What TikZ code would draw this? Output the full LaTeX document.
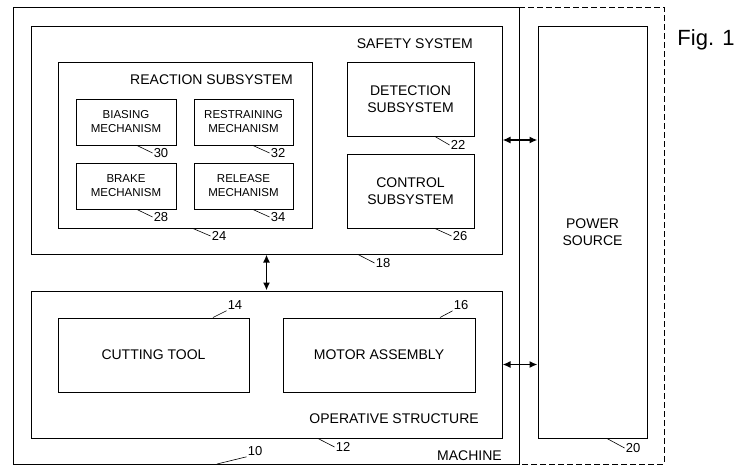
\documentclass[tikz,border=0pt]{standalone}
\usepackage{fontspec}
\setmainfont{Liberation Sans}
\usetikzlibrary{arrows.meta}
\usetikzlibrary{positioning}
\tikzset{
  box/.style = {draw=black, line width=1pt, align=center, inner sep=0pt,
    font=\fontsize{14}{17}\selectfont},% bloc
  mech/.style = {box, font=\fontsize{11.5}{14}\selectfont},% petit bloc
  refnum/.style = {inner sep=1pt, font=\fontsize{13}{15}\selectfont},% numero
  caption/.style = {inner sep=0pt, anchor=east,
    font=\fontsize{14}{17}\selectfont},% titre de bloc
  lead/.style = {line width=0.6pt},% trait de renvoi
  link/.style = {<->, >={Latex[length=8pt,width=7pt]}, line width=1.6pt},
  frame/.style = {line width=0.8pt}
}

\begin{document}
\begin{tikzpicture}[x=1pt,y=-1pt]
\useasboundingbox (0,0) rectangle (737,464);
% machine
\coordinate (mach-nw) at (13,7);
\coordinate (mach-ne) at (519,7);
\coordinate (mach-sw) at (13,464);
\coordinate (mach-se) at (519,464);
\coordinate (ext-ne) at (664,7);
\coordinate (ext-se) at (664,464);
\draw[frame] (mach-ne) -- (mach-nw) -- (mach-sw) -- (mach-se) -- cycle;
\draw[frame, dash pattern=on 6pt off 3pt] (mach-ne) -- (ext-ne) -- (ext-se) -- (mach-se);

% safety system
\node[box, minimum width=471pt, minimum height=228pt] (safety) at (266.5,140) {};
\node[caption] (safety-lbl) at (473,44) {SAFETY SYSTEM};
\node[box, minimum width=254pt, minimum height=166pt] (reaction) at (185,145) {};
\node[caption] (reaction-lbl) at (293,80) {REACTION SUBSYSTEM};
\node[mech, minimum width=100pt, minimum height=46pt] (biasing) at (126,122) {BIASING\\MECHANISM};
\node[mech, minimum width=99pt, minimum height=46pt] (restraining) at (243.5,122) {RESTRAINING\\MECHANISM};
\node[mech, minimum width=100pt, minimum height=46pt] (brake) at (126,186) {BRAKE\\MECHANISM};
\node[mech, minimum width=99pt, minimum height=46pt] (release) at (243.5,186) {RELEASE\\MECHANISM};
\node[box, minimum width=127pt, minimum height=74pt] (detection) at (410.5,99) {DETECTION\\SUBSYSTEM};
\node[box, minimum width=127pt, minimum height=74pt] (control) at (410.5,191) {CONTROL\\SUBSYSTEM};

% operative structure
\node[box, minimum width=471pt, minimum height=147pt] (operative) at (266.5,364.5) {};
\node[caption] (operative-lbl) at (479,419) {OPERATIVE STRUCTURE};
\node[box, minimum width=191pt, minimum height=74pt] (cutting) at (153.5,355) {CUTTING TOOL};
\node[box, minimum width=192pt, minimum height=74pt] (motor) at (379,355) {MOTOR ASSEMBLY};

% power source
\node[box, minimum width=109pt, minimum height=412pt] (power) at (592.5,232) {POWER\\SOURCE};
\node[caption] (machine-lbl) at (502,456) {MACHINE};
\node[inner sep=0pt, font=\fontsize{22}{24}\selectfont] (fig) at (706,40) {Fig. 1};

% liaisons
\draw[link] (safety.east) -- (safety.east -| power.west);
\draw[link] (operative.east) -- (operative.east -| power.west);
\draw[link] (safety.south) -- (operative.north);

% numeros
\node[refnum] (n30) at (161,153) {30};
\draw[lead] ([xshift=11pt]biasing.south) -- (n30.west);
\node[refnum] (n32) at (278,153) {32};
\draw[lead] ([xshift=9.5pt]restraining.south) -- (n32.west);
\node[refnum] (n28) at (161,217) {28};
\draw[lead] ([xshift=11pt]brake.south) -- (n28.west);
\node[refnum] (n34) at (278,217) {34};
\draw[lead] ([xshift=9.5pt]release.south) -- (n34.west);
\node[refnum] (n24) at (219,236) {24};
\draw[lead] ([xshift=8pt]reaction.south) -- (n24.west);
\node[refnum] (n22) at (458,145) {22};
\draw[lead] ([xshift=24.5pt]detection.south) -- (n22.west);
\node[refnum] (n26) at (460,236) {26};
\draw[lead] ([xshift=24.5pt]control.south) -- (n26.west);
\node[refnum] (n18) at (383,263) {18};
\draw[lead] ([xshift=91.5pt]safety.south) -- (n18.west);
\node[refnum] (n14) at (235,305) {14};
\draw[lead] ([xshift=59.5pt]cutting.north) -- (n14.south west);
\node[refnum] (n16) at (461,305) {16};
\draw[lead] ([xshift=61pt]motor.north) -- (n16.south west);
\node[refnum] (n12) at (343,447) {12};
\draw[lead] ([xshift=51.5pt]operative.south) -- (n12.west);
\node[refnum] (n20) at (633,448) {20};
\draw[lead] ([xshift=14.5pt]power.south) -- (n20.west);
\node[refnum] (n10) at (255,451) {10};
\draw[lead] ([xshift=204pt]mach-sw) -- (n10.south west);
\end{tikzpicture}
\end{document}
